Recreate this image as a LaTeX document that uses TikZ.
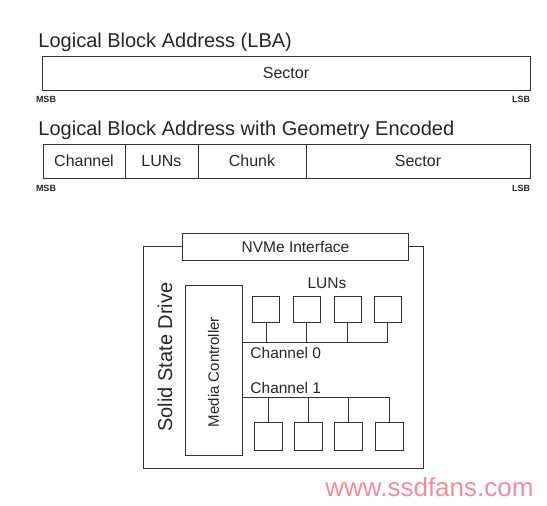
\documentclass[tikz,border=0pt]{standalone}
\usepackage{fontspec}
\setmainfont{Liberation Sans}
\usetikzlibrary{positioning}
\definecolor{wmpink}{RGB}{247,140,150}

\begin{document}
\begin{tikzpicture}[
  x=1pt, y=-1pt,
  line width=0.9pt,
  every node/.style={text=black!85},
  heading/.style={anchor=base west, inner sep=0pt, font=\fontsize{20}{24}\selectfont},
  field/.style={draw=black!80, minimum height=34pt, inner sep=0pt, outer sep=0pt, font=\fontsize{16}{19}\selectfont},
  bitmark/.style={inner sep=0pt, font=\fontsize{9}{10}\selectfont\bfseries},
  ssdbox/.style={draw=black!80, inner sep=0pt},
  lun/.style={draw=black!80, inner sep=0pt, minimum width=27pt, minimum height=26pt},
  tag/.style={inner sep=0pt, font=\fontsize{15.5}{18}\selectfont},
  bus/.style={draw=black!80}
]
\useasboundingbox (0,0) rectangle (547,506);

% plain LBA
\node[heading] (lbatitle) at (38,47) {Logical Block Address (LBA)};
\node[field, minimum width=488pt] (lba) at (286,73) {Sector};
\node[bitmark] (lbamsb) at (46,99) {MSB};
\node[bitmark] (lbalsb) at (521,99) {LSB};

% LBA with geometry
\node[heading] (geotitle) at (38,135) {Logical Block Address with Geometry Encoded};
\node[field, minimum width=82pt, anchor=north west] (channel) at (43,144) {Channel};
\node[field, minimum width=73pt, right=0pt of channel] (luns) {LUNs};
\node[field, minimum width=108pt, right=0pt of luns] (chunk) {Chunk};
\node[field, minimum width=224pt, right=0pt of chunk] (sector) {Sector};
\node[bitmark] (geomsb) at (46,188) {MSB};
\node[bitmark] (geolsb) at (521,188) {LSB};

% drive
\node[ssdbox, minimum width=280pt, minimum height=222pt] (ssd) at (283,357) {};
\node[ssdbox, fill=white, minimum width=226pt, minimum height=27pt, font=\fontsize{15.5}{18}\selectfont] (nvme) at (295.5,247) {NVMe Interface};
\node[rotate=90, inner sep=0pt, font=\fontsize{20}{24}\selectfont] (ssdname) at (165,357) {Solid State Drive};
\node[ssdbox, minimum width=57pt, minimum height=170pt] (mc) at (213.5,370) {};
\node[tag, rotate=90, font=\fontsize{15}{18}\selectfont] (mcname) at (213.5,372) {Media Controller};

\node[tag] (lunname) at (327,283) {LUNs};
\foreach \i/\xa/\xb in {1/266/268, 2/306.5/308, 3/347.5/348.5, 4/387.5/389.5} {
  \node[lun] (top\i) at (\xa,309.5) {};
  \node[lun, minimum width=28pt, minimum height=28pt] (bot\i) at (\xb,436) {};
}

\coordinate (ch0) at (242,342);
\coordinate (ch1) at (242,397);
\draw[bus] (ch0) -- (ch0 -| top4.south);
\draw[bus] (ch1) -- (ch1 -| bot4.north);
\foreach \i in {1,...,4} {
  \draw[bus] (top\i.south) -- (top\i.south |- ch0);
  \draw[bus] (bot\i.north) -- (bot\i.north |- ch1);
}
\node[tag, anchor=west] (ch0name) at (250,353) {Channel 0};
\node[tag, anchor=west] (ch1name) at (250,388) {Channel 1};

\node[anchor=west, inner sep=0pt, text=wmpink, font=\fontsize{26}{30}\selectfont] (site) at (325,487) {www.ssdfans.com};
\end{tikzpicture}
\end{document}
